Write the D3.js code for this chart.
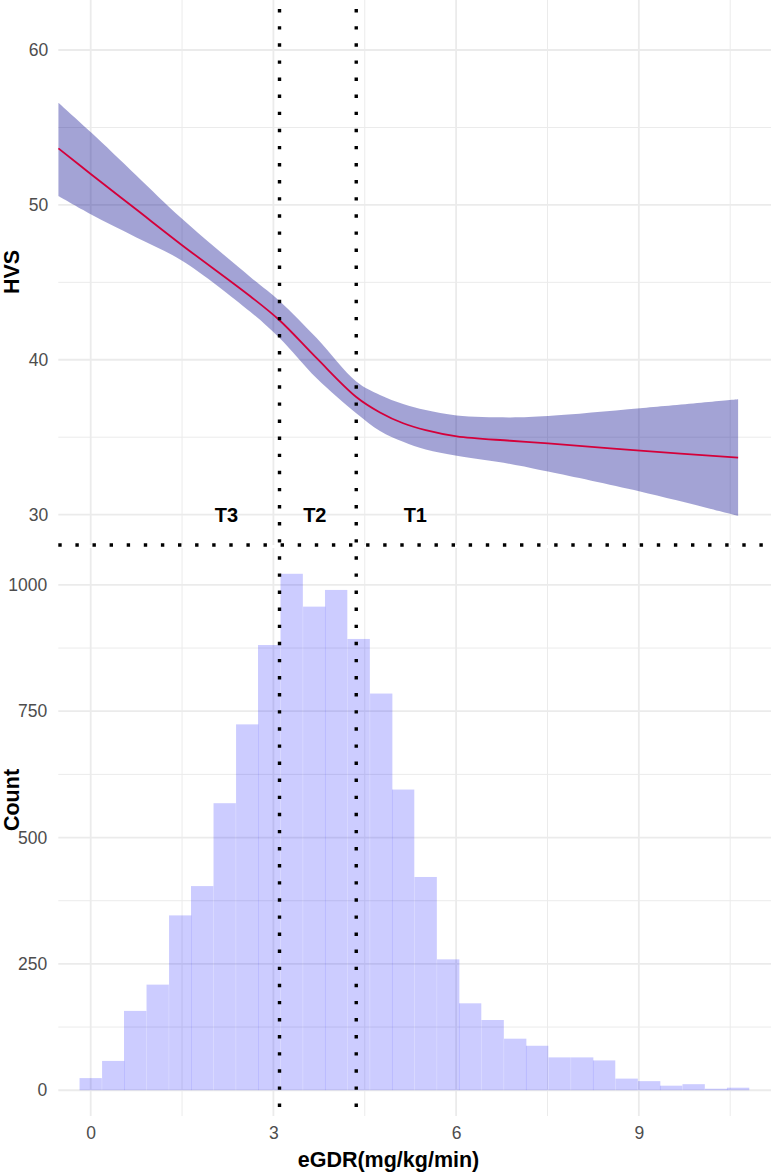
<!DOCTYPE html>
<html>
<head>
<meta charset="utf-8">
<script src="https://cdn.jsdelivr.net/npm/d3@7"></script>
<style>
body { margin: 0; background: #fff; }
svg { display: block; font-family: "Liberation Sans", Arial, sans-serif; }
.axis text { fill: #4d4d4d; font-size: 17.5px; }
.axis .domain { display: none; }
.grid-major { stroke: #ebebeb; stroke-width: 1.8; }
.grid-minor { stroke: #ebebeb; stroke-width: 1; }
.title { font-weight: bold; font-size: 21.5px; fill: #000; }
.tlabel { font-weight: bold; font-size: 20px; fill: #000; }
.cut { stroke: #000; stroke-width: 3.4; stroke-dasharray: 3.4 13.7; fill: none; }
</style>
</head>
<body>
<svg id="chart" width="771" height="1176"></svg>
<script>
// top panel: fitted HVS with confidence band
var fitX     = [-0.53, 0, 0.75, 1.5, 2.62, 3.1, 3.71, 4.36, 4.75, 5.13, 5.5, 6.01, 6.89, 7.51, 9.02, 10.63];
var fitHVS   = [53.65, 52.0, 49.7, 47.4, 44.1, 42.55, 40.1, 37.6, 36.6, 35.9, 35.45, 35.05, 34.77, 34.6, 34.13, 33.68];
var fitLower = [50.57, 49.4, 47.9, 46.4, 43.1, 41.4, 38.8, 36.55, 35.4, 34.7, 34.2, 33.8, 33.27, 32.78, 31.49, 29.92];
var fitUpper = [56.6, 54.7, 51.9, 49.1, 45.35, 43.8, 41.4, 38.6, 37.73, 37.15, 36.75, 36.4, 36.28, 36.37, 36.87, 37.45];

// bottom panel: eGDR histogram (30 bins)
var binWidth   = 0.3667;
var binCenters = [0.00, 0.37, 0.73, 1.10, 1.47, 1.83, 2.20, 2.57, 2.93, 3.30,
                  3.67, 4.03, 4.40, 4.77, 5.13, 5.50, 5.87, 6.23, 6.60, 6.97,
                  7.33, 7.70, 8.07, 8.43, 8.80, 9.17, 9.53, 9.90, 10.27, 10.63];
var binCounts  = [24, 58, 157, 209, 346, 404, 568, 724, 881, 1022,
                  957, 990, 893, 785, 595, 422, 259, 172, 139, 102,
                  88, 65, 65, 59, 23, 18, 9, 12, 3, 5];

// tertile cut points and labels
var cutPoints  = [3.10, 4.36];
var tertileX   = [2.23, 3.68, 5.33];
var tertileLab = ["T3", "T2", "T1"];
var tertileY   = 30;

var xTicks = [0, 3, 6, 9], xMinor = [1.5, 4.5, 7.5, 10.5];
var hvsTicks = [30, 40, 50, 60], hvsMinor = [35, 45, 55];
var countTicks = [0, 250, 500, 750, 1000], countMinor = [125, 375, 625, 875];

var left = 58.3, right = 771,
    top1 = 0, bottom1 = 545,
    top2 = 548, bottom2 = 1116;

var svg = d3.select("#chart");

var x = d3.scaleLinear().domain([-0.532, 11.17]).range([left, right]);
var yHvs = d3.scaleLinear().domain([28.04, 63.23]).range([bottom1, top1]);
var yCount = d3.scaleLinear().domain([-51, 1073]).range([bottom2, top2]);

function grid(g, yScale, yMaj, yMin, y0, y1) {
    g.selectAll(".hmin").data(yMin).enter().append("line")
        .attr("class", "grid-minor")
        .attr("x1", left).attr("x2", right)
        .attr("y1", function(d){ return yScale(d); })
        .attr("y2", function(d){ return yScale(d); });
    g.selectAll(".vmin").data(xMinor).enter().append("line")
        .attr("class", "grid-minor")
        .attr("y1", y0).attr("y2", y1)
        .attr("x1", function(d){ return x(d); })
        .attr("x2", function(d){ return x(d); });
    g.selectAll(".hmaj").data(yMaj).enter().append("line")
        .attr("class", "grid-major")
        .attr("x1", left).attr("x2", right)
        .attr("y1", function(d){ return yScale(d); })
        .attr("y2", function(d){ return yScale(d); });
    g.selectAll(".vmaj").data(xTicks).enter().append("line")
        .attr("class", "grid-major")
        .attr("y1", y0).attr("y2", y1)
        .attr("x1", function(d){ return x(d); })
        .attr("x2", function(d){ return x(d); });
}

grid(svg.append("g"), yHvs, hvsTicks, hvsMinor, top1, bottom1);
grid(svg.append("g"), yCount, countTicks, countMinor, top2, bottom2);

// histogram
svg.append("g").selectAll("rect")
    .data(binCenters)
    .enter().append("rect")
    .attr("x", function(d){ return x(d - binWidth / 2); })
    .attr("width", x(binWidth) - x(0))
    .attr("y", function(d, i){ return yCount(binCounts[i]); })
    .attr("height", function(d, i){ return yCount(0) - yCount(binCounts[i]); })
    .attr("fill", "blue")
    .attr("fill-opacity", 0.2);

// confidence band + fit
var fit = fitX.map(function(v, i){
    return {x: v, y: fitHVS[i], lo: fitLower[i], hi: fitUpper[i]};
});

var smooth = d3.curveCatmullRom.alpha(0.5);

svg.append("path")
    .datum(fit)
    .attr("fill", "#00008b")
    .attr("fill-opacity", 0.36)
    .attr("d", d3.area()
        .curve(smooth)
        .x(function(d){ return x(d.x); })
        .y0(function(d){ return yHvs(d.lo); })
        .y1(function(d){ return yHvs(d.hi); }));

svg.append("path")
    .datum(fit)
    .attr("fill", "none")
    .attr("stroke", "#d4003a")
    .attr("stroke-width", 1.8)
    .attr("d", d3.line()
        .curve(smooth)
        .x(function(d){ return x(d.x); })
        .y(function(d){ return yHvs(d.y); }));

// dotted cut lines
svg.append("g").selectAll("line")
    .data(cutPoints)
    .enter().append("line")
    .attr("class", "cut")
    .attr("stroke-dashoffset", 8)
    .attr("x1", function(d){ return x(d); })
    .attr("x2", function(d){ return x(d); })
    .attr("y1", 0).attr("y2", bottom2 + 1);

svg.append("line")
    .attr("class", "cut")
    .attr("x1", left).attr("x2", right)
    .attr("y1", bottom1).attr("y2", bottom1);

// tertile labels
svg.append("g").selectAll("text")
    .data(tertileLab)
    .enter().append("text")
    .attr("class", "tlabel")
    .attr("text-anchor", "middle")
    .attr("x", function(d, i){ return x(tertileX[i]); })
    .attr("y", yHvs(tertileY))
    .attr("dy", "0.36em")
    .text(function(d){ return d; });

// axes
svg.append("g")
    .attr("class", "axis")
    .attr("transform", "translate(" + left + ",0)")
    .call(d3.axisLeft(yHvs).tickValues(hvsTicks).tickSize(0).tickPadding(10))
    .selectAll("line").remove();

svg.append("g")
    .attr("class", "axis")
    .attr("transform", "translate(" + left + ",0)")
    .call(d3.axisLeft(yCount).tickValues(countTicks).tickFormat(d3.format("d")).tickSize(0).tickPadding(11))
    .selectAll("line").remove();

svg.append("g")
    .attr("class", "axis")
    .attr("transform", "translate(0," + bottom2 + ")")
    .call(d3.axisBottom(x).tickValues(xTicks).tickSize(0).tickPadding(11))
    .selectAll("line").remove();

// axis titles
svg.append("text")
    .attr("class", "title")
    .attr("text-anchor", "middle")
    .attr("transform", "translate(19," + 272 + ") rotate(-90)")
    .text("HVS");

svg.append("text")
    .attr("class", "title")
    .attr("text-anchor", "middle")
    .attr("transform", "translate(19," + 800 + ") rotate(-90)")
    .text("Count");

svg.append("text")
    .attr("class", "title")
    .attr("text-anchor", "middle")
    .attr("x", x(4.89))
    .attr("y", 1167)
    .text("eGDR(mg/kg/min)");
</script>
</body>
</html>
